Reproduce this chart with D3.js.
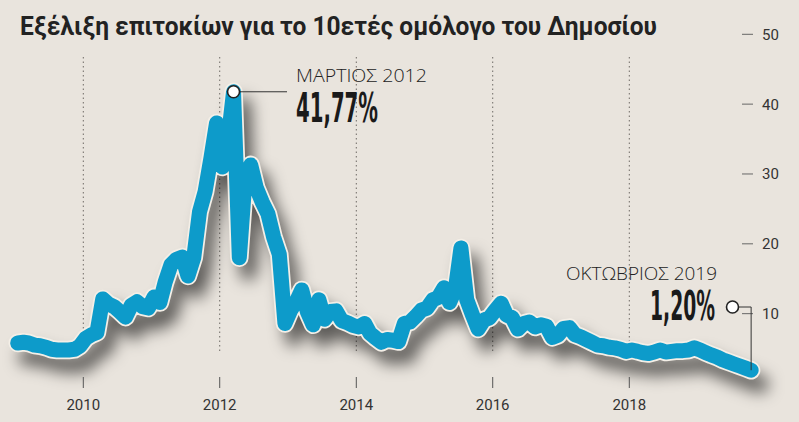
<!DOCTYPE html>
<html>
<head>
<meta charset="utf-8">
<script src="https://cdn.jsdelivr.net/npm/d3@7"></script>
<style>
  body { margin: 0; background: #e9e4dd; }
  svg { display: block; }
</style>
</head>
<body>
<div id="chart"></div>
<script>
(function() {
    var width = 799,
        height = 422;

    var chartTitle = "Εξέλιξη επιτοκίων για το 10ετές ομόλογο του Δημοσίου";

    // monthly 10y yields (%), Jan 2009 .. Oct 2019
    var firstMonth = "2009-01";
    var yields = [
        5.8, 5.9, 5.8, 5.5, 5.4, 5.2, 4.9, 4.8, 4.8, 4.8, 4.9, 5.4,         // 2009
        6.5, 7.0, 7.3, 12.1, 11.4, 11.0, 10.3, 9.5, 11.2, 11.7, 11.0, 10.8, // 2010
        12.4, 11.6, 14.5, 17.0, 17.8, 18.1, 15.4, 18.0, 24.6, 27.5, 32.3, 37.3, // 2011
        31.0, 35.0, 41.77, 18.0, 29.0, 31.3, 28.0, 26.0, 24.3, 21.0, 18.5, 8.6, // 2012
        10.5, 11.8, 13.4, 10.2, 8.4, 12.0, 9.2, 10.3, 10.4, 9.0, 8.7, 8.3,  // 2013
        8.1, 8.6, 7.2, 6.5, 5.9, 6.3, 6.2, 6.0, 8.6, 8.8, 9.6, 10.5,        // 2014
        10.8, 12.0, 12.3, 13.7, 11.6, 13.5, 19.4, 12.0, 9.8, 7.8, 9.1, 9.4, // 2015
        10.5, 11.5, 9.8, 9.4, 7.8, 8.6, 8.8, 8.1, 8.4, 8.2, 6.6, 6.9,       // 2016
        7.9, 8.0, 7.0, 6.7, 6.3, 5.9, 5.5, 5.4, 5.2, 5.1, 4.9, 4.6,         // 2017
        4.8, 4.6, 4.4, 4.3, 4.5, 4.8, 4.5, 4.6, 4.7, 4.7, 4.8, 5.1,         // 2018
        4.8, 4.4, 4.1, 3.8, 3.4, 3.1, 2.8, 2.5, 2.2, 1.9                    // 2019
    ];

    var yTicks = [10, 20, 30, 40, 50];
    var xTickYears = [2010, 2012, 2014, 2016, 2018];

    var peakLabel = ["ΜΑΡΤΙΟΣ 2012", "41,77%"];
    var lastLabel = ["ΟΚΤΩΒΡΙΟΣ 2019", "1,20%"];

    var start = d3.timeParse("%Y-%m")(firstMonth);
    var data = yields.map(function(v, i) {
        return { date: d3.timeDay.offset(d3.timeMonth.offset(start, i), 14), value: v };
    });

    var x = d3.scaleTime()
        .domain([new Date(2010, 0, 1), new Date(2018, 0, 1)])
        .range([83.3, 629.3]);

    var y = d3.scaleLinear()
        .domain([0, 50])
        .range([383.5, 34.3]);

    var svg = d3.select("#chart")
        .append("svg")
        .attr("width", width)
        .attr("height", height);

    svg.append("rect")
        .attr("width", width)
        .attr("height", height)
        .attr("fill", "#e9e4dd");

    var defs = svg.append("defs");
    defs.append("filter")
        .attr("id", "shadow")
        .attr("filterUnits", "userSpaceOnUse")
        .attr("x", -50).attr("y", -50)
        .attr("width", width + 100).attr("height", height + 100)
        .append("feGaussianBlur")
        .attr("stdDeviation", 8);

    // title
    svg.append("text")
        .attr("x", 20)
        .attr("y", 35)
        .attr("font-family", "Roboto, 'Noto Sans', sans-serif")
        .attr("font-weight", 700)
        .attr("font-size", 26)
        .attr("fill", "#222")
        .attr("textLength", 637)
        .attr("lengthAdjust", "spacingAndGlyphs")
        .text(chartTitle);

    // dotted year lines
    svg.selectAll(".grid")
        .data(xTickYears)
        .enter().append("line")
        .attr("class", "grid")
        .attr("x1", function(d) { return x(new Date(d, 0, 1)); })
        .attr("x2", function(d) { return x(new Date(d, 0, 1)); })
        .attr("y1", 57)
        .attr("y2", 354)
        .attr("stroke", "#6e6a66")
        .attr("stroke-width", 1)
        .attr("stroke-dasharray", "1.5,3");

    var line = d3.line()
        .x(function(d) { return x(d.date); })
        .y(function(d) { return y(d.value); });

    // shadow, outline, line
    svg.append("path")
        .datum(data)
        .attr("d", line)
        .attr("transform", "translate(9,14)")
        .attr("fill", "none")
        .attr("stroke", "#000")
        .attr("stroke-opacity", 0.6)
        .attr("stroke-width", 17)
        .attr("stroke-linejoin", "round")
        .attr("stroke-linecap", "round")
        .attr("filter", "url(#shadow)");

    svg.append("path")
        .datum(data)
        .attr("d", line)
        .attr("fill", "none")
        .attr("stroke", "#f4efe7")
        .attr("stroke-width", 18.5)
        .attr("stroke-linejoin", "round")
        .attr("stroke-linecap", "round");

    svg.append("path")
        .datum(data)
        .attr("d", line)
        .attr("fill", "none")
        .attr("stroke", "#0d9bca")
        .attr("stroke-width", 15)
        .attr("stroke-linejoin", "round")
        .attr("stroke-linecap", "round");

    // x axis ticks + labels
    svg.selectAll(".xtick")
        .data(xTickYears)
        .enter().append("line")
        .attr("class", "xtick")
        .attr("x1", function(d) { return x(new Date(d, 0, 1)); })
        .attr("x2", function(d) { return x(new Date(d, 0, 1)); })
        .attr("y1", 377)
        .attr("y2", 388)
        .attr("stroke", "#555")
        .attr("stroke-width", 1);

    svg.selectAll(".xlabel")
        .data(xTickYears)
        .enter().append("text")
        .attr("class", "alltext xlabel")
        .attr("x", function(d) { return x(new Date(d, 0, 1)); })
        .attr("y", 410)
        .attr("text-anchor", "middle")
        .text(function(d) { return d; });

    // y axis on the right
    svg.selectAll(".ytick")
        .data(yTicks)
        .enter().append("line")
        .attr("class", "ytick")
        .attr("x1", 742)
        .attr("x2", 753)
        .attr("y1", function(d) { return y(d); })
        .attr("y2", function(d) { return y(d); })
        .attr("stroke", "#666")
        .attr("stroke-width", 1);

    svg.selectAll(".ylabel")
        .data(yTicks)
        .enter().append("text")
        .attr("class", "alltext ylabel")
        .attr("x", 762)
        .attr("y", function(d) { return y(d); })
        .attr("dy", "0.36em")
        .text(function(d) { return d; });

    d3.selectAll(".alltext")
        .attr("font-family", "Roboto, sans-serif")
        .attr("font-size", 15)
        .attr("fill", "#333");

    // peak annotation
    var peakIdx = d3.maxIndex(data, function(d) { return d.value; });
    var peak = data[peakIdx];
    var px = x(peak.date), py = y(peak.value);

    svg.append("line")
        .attr("x1", px).attr("x2", 287)
        .attr("y1", py).attr("y2", py)
        .attr("stroke", "#333").attr("stroke-width", 1);

    svg.append("circle")
        .attr("cx", px).attr("cy", py).attr("r", 6)
        .attr("fill", "#fff").attr("stroke", "#222").attr("stroke-width", 1.6);

    svg.append("text")
        .attr("x", 296).attr("y", 82)
        .attr("font-family", "'Open Sans', sans-serif")
        .attr("font-weight", 300)
        .attr("font-size", 18)
        .attr("fill", "#222")
        .attr("textLength", 131)
        .attr("lengthAdjust", "spacingAndGlyphs")
        .text(peakLabel[0]);

    svg.append("text")
        .attr("x", 296).attr("y", 122)
        .attr("class", "bignum")
        .attr("textLength", 82)
        .text(peakLabel[1]);

    // last value annotation
    var last = data[data.length - 1];
    var lx = x(last.date), ly = y(last.value);

    svg.append("path")
        .attr("d", "M738," + 307 + "H" + lx + "V" + ly)
        .attr("fill", "none")
        .attr("stroke", "#333").attr("stroke-width", 1);

    svg.append("circle")
        .attr("cx", 732.5).attr("cy", 307).attr("r", 6)
        .attr("fill", "#fff").attr("stroke", "#222").attr("stroke-width", 1.6);

    svg.append("text")
        .attr("x", 566).attr("y", 280)
        .attr("font-family", "'Open Sans', sans-serif")
        .attr("font-weight", 300)
        .attr("font-size", 18)
        .attr("fill", "#222")
        .attr("textLength", 151)
        .attr("lengthAdjust", "spacingAndGlyphs")
        .text(lastLabel[0]);

    svg.append("text")
        .attr("x", 650).attr("y", 320)
        .attr("class", "bignum")
        .attr("textLength", 65)
        .text(lastLabel[1]);

    d3.selectAll(".bignum")
        .attr("font-family", "'Liberation Sans Narrow', 'DejaVu Sans Condensed', sans-serif")
        .attr("font-weight", 700)
        .attr("font-size", 40)
        .attr("fill", "#1a1a1a")
        .attr("lengthAdjust", "spacingAndGlyphs");
})();
</script>
</body>
</html>
